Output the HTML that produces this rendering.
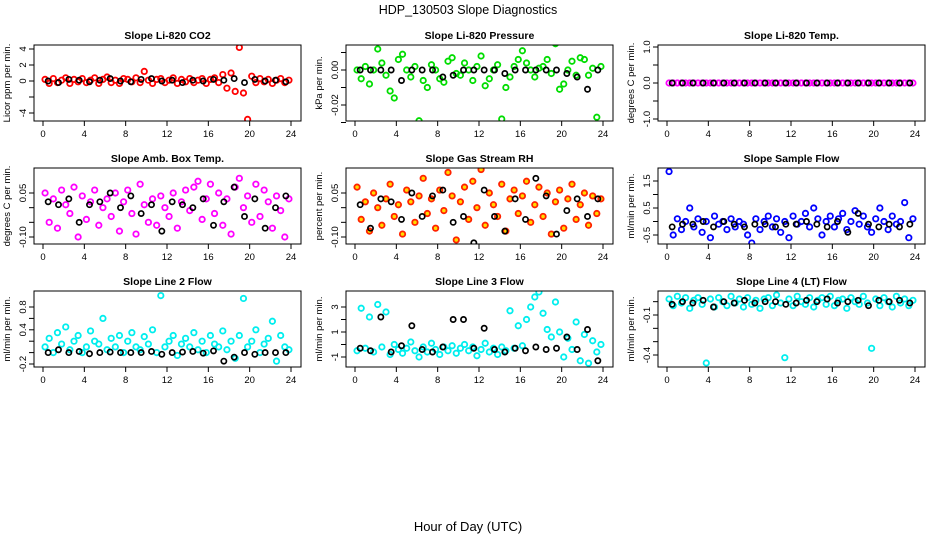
<!DOCTYPE html>
<html><head><meta charset="utf-8"><style>
html,body{margin:0;padding:0;background:#fff;}
svg{display:block;font-family:"Liberation Sans",Arial,sans-serif;}
</style></head><body>
<svg id="chart" width="936" height="540" viewBox="0 0 936 540">
<text x="468" y="14" text-anchor="middle" font-size="12.5">HDP_130503  Slope Diagnostics</text>
<text x="468" y="531" text-anchor="middle" font-size="13">Hour of Day (UTC)</text>
</svg>
<script>
const hoursC = [0.2,0.6,1.0,1.4,1.8,2.2,2.6,3.0,3.4,3.8,4.2,4.6,5.0,5.4,5.8,6.2,6.6,7.0,7.4,7.8,8.2,8.6,9.0,9.4,9.8,10.2,10.6,11.0,11.4,11.8,12.2,12.6,13.0,13.4,13.8,14.2,14.6,15.0,15.4,15.8,16.2,16.6,17.0,17.4,17.8,18.2,18.6,19.0,19.4,19.8,20.2,20.6,21.0,21.4,21.8,22.2,22.6,23.0,23.4,23.8];
const hoursB = [0.5,1.5,2.5,3.5,4.5,5.5,6.5,7.5,8.5,9.5,10.5,11.5,12.5,13.5,14.5,15.5,16.5,17.5,18.5,19.5,20.5,21.5,22.5,23.5];
const xTicks = [0,4,8,12,16,20,24];

const co2C = [0.2,-0.3,0.3,-0.2,0.1,0.4,-0.3,0.2,-0.1,0.3,-0.2,0.1,0.4,-0.3,0.2,0.5,-0.2,0.1,-0.3,0.3,0.2,-0.1,0.4,-0.2,1.2,0.1,-0.3,0.2,0.3,-0.2,0.1,0.4,-0.3,0.2,-0.1,0.3,-0.2,0.1,0.3,-0.3,0.2,0.4,-0.2,0.8,-0.9,1.0,-1.3,4.2,-1.5,-4.8,0.6,-0.2,0.3,-0.1,0.2,-0.3,0.1,0.3,-0.2,0.1];
const co2B = [0.0,-0.2,0.2,0.1,-0.1,0.1,0.3,0.0,-0.1,0.2,0.3,0.0,0.1,-0.2,0.1,0.0,0.2,0.1,0.3,-0.2,0.2,0.0,0.1,-0.1];
const presC = [0,-0.005,0.002,-0.008,0,0.012,0.004,-0.003,-0.012,-0.016,0.006,0.009,0,-0.004,0.002,-0.029,-0.006,-0.01,0.003,0,-0.005,-0.007,0.005,0.007,-0.002,-0.003,0.004,0,-0.006,0.002,0.008,-0.009,-0.005,0,0.003,-0.028,-0.01,-0.004,0.002,0.006,0.011,0.004,0,-0.004,0.001,0.002,0.006,-0.002,0.015,-0.011,-0.008,0,0.005,-0.003,0.007,0.006,-0.003,0.001,-0.027,0.002];
const presB = [0,0,0,0,-0.006,0,0,0,-0.004,-0.003,0,0,0,0,-0.002,0,0,0,0,0,-0.002,-0.004,-0.011,0];
const tempC = [0,0,0,0,0,0,0,0,0,0,0,0,0,0,0,0,0,0,0,0,0,0,0,0,0,0,0,0,0,0,0,0,0,0,0,0,0,0,0,0,0,0,0,0,0,0,0,0,0,0,0,0,0,0,0,0,0,0,0,0];
const tempB = [0,0,0,0,0,0,0,0,0,0,0,0,0,0,0,0,0,0,0,0,0,0,0,0];
const ambC = [0.05,-0.05,0.03,-0.07,0.06,0.01,-0.02,0.07,-0.10,0.04,-0.04,0.02,0.06,-0.06,0.00,0.03,-0.03,0.05,-0.08,0.02,0.06,-0.02,-0.09,0.08,0.01,-0.05,0.03,-0.06,0.04,0.00,-0.03,0.05,-0.07,0.02,0.06,-0.01,0.07,0.09,-0.04,0.03,0.08,-0.02,0.05,-0.06,0.03,-0.09,0.07,0.10,0.00,0.04,-0.05,0.08,-0.03,0.06,0.02,-0.07,0.04,-0.01,-0.10,0.03];
const ambB = [0.02,0.01,0.03,-0.05,0.01,0.02,0.05,0.00,0.04,-0.02,0.01,-0.08,0.02,0.01,0.00,0.03,-0.06,0.02,0.07,-0.03,0.03,-0.07,0.00,0.04];
const rhC = [0.07,-0.04,0.02,-0.08,0.05,0.00,-0.06,0.03,0.08,-0.03,0.01,-0.09,0.06,0.02,-0.05,0.04,0.10,-0.02,0.03,-0.07,0.06,-0.01,0.12,0.04,-0.11,0.02,0.07,-0.04,0.09,0.00,0.13,-0.06,0.05,0.01,-0.03,0.08,-0.08,0.03,0.06,-0.02,0.04,0.09,-0.05,0.01,0.07,-0.03,0.05,-0.09,0.02,0.06,-0.07,0.03,0.08,-0.04,0.01,0.05,-0.06,0.04,-0.02,0.03];
const rhB = [0.01,-0.07,0.03,0.02,-0.04,0.05,-0.03,0.04,0.06,-0.05,-0.03,-0.12,0.06,-0.03,-0.08,0.03,-0.04,0.10,0.04,-0.09,-0.01,0.03,-0.03,0.03];
const sampC = [1.85,-0.5,0.1,-0.3,0.0,0.5,-0.2,0.1,-0.4,0.0,-0.6,0.2,-0.1,0.0,-0.3,0.1,-0.2,0.0,-0.1,-0.5,-0.8,0.1,-0.3,0.0,0.2,-0.2,0.1,-0.4,0.0,-0.6,0.2,-0.1,0.0,0.3,-0.2,0.5,0.1,-0.5,0.0,0.2,-0.2,0.1,0.3,-0.3,0.0,0.4,-0.1,0.2,-0.2,-0.4,0.1,0.5,0.0,-0.3,0.2,-0.1,0.0,0.7,-0.6,0.1];
const sampB = [-0.2,-0.1,-0.1,0.0,-0.2,0.0,-0.1,-0.2,-0.1,-0.1,-0.2,-0.1,-0.1,0.0,-0.1,-0.2,0.0,-0.4,0.3,-0.1,-0.2,-0.1,-0.2,-0.1];
const l2C = [0.1,0.25,0.0,0.35,0.15,0.45,0.05,0.2,0.3,0.0,0.1,0.38,0.2,0.15,0.6,0.05,0.25,0.1,0.3,0.0,0.2,0.35,0.1,0.05,0.28,0.15,0.4,0.0,1.0,0.1,0.2,0.3,-0.05,0.15,0.25,0.1,0.35,0.05,0.2,0.0,0.3,0.15,0.1,0.38,0.05,0.2,-0.1,0.3,0.95,0.1,0.2,0.4,0.0,0.15,0.25,0.55,-0.15,0.3,0.1,0.05];
const l2B = [0.0,0.05,0.0,0.02,-0.02,0.0,0.01,0.0,0.0,0.0,0.02,-0.03,0.0,0.01,0.02,-0.01,0.03,-0.15,-0.08,0.0,-0.03,0.0,0.0,0.0];
const l3C = [-0.5,2.9,-0.3,2.2,-0.6,3.2,-0.2,2.6,-0.8,0.0,-0.4,-0.7,-0.3,0.2,-0.5,-1.0,-0.2,-0.6,0.1,-0.4,-0.8,-0.2,-0.5,-0.1,-0.7,-0.3,0.0,-0.5,-0.2,-0.9,-0.4,0.1,-0.6,-0.3,-0.8,-0.2,-0.5,2.7,-0.3,1.5,-0.1,2.0,3.0,3.8,4.2,2.5,1.2,0.6,3.4,1.0,-1.0,0.5,-0.4,1.8,-1.3,0.8,-1.5,0.3,-0.6,0.0];
const l3B = [-0.3,-0.5,2.2,-0.6,-0.1,1.5,-0.4,-0.6,-0.2,2.0,2.0,-0.3,1.3,-0.4,-0.6,-0.3,-0.5,-0.2,-0.4,-0.3,0.6,-0.4,1.2,-1.3];
const l4C = [0.02,-0.03,0.04,-0.01,0.03,-0.05,0.01,0.03,-0.02,-0.46,0.02,-0.04,0.03,0.0,-0.03,0.04,-0.01,0.02,-0.04,0.03,-0.02,0.01,-0.05,0.02,0.03,-0.03,0.05,-0.01,-0.42,0.02,-0.03,0.04,0.0,-0.02,0.03,-0.04,0.01,0.03,-0.02,0.04,-0.03,0.01,0.02,-0.05,0.03,0.0,-0.02,0.04,-0.01,-0.35,0.02,-0.03,0.03,0.0,-0.04,0.04,-0.01,0.02,-0.03,0.01];
const l4B = [-0.02,0.0,-0.01,0.01,-0.04,0.0,-0.01,0.01,-0.01,0.0,0.0,-0.02,-0.01,0.01,0.0,0.02,-0.01,0.0,0.01,-0.03,0.01,0.0,0.01,-0.01];

const co2Ticks=[-4,-2,0,2,4], co2Labels=['-4','','0','2','4'];
const presTicks=[-0.03,-0.02,-0.01,0,0.01], presLabels=['','-0.02','','0.00',''];
const tempTicks=[-1,-0.5,0,0.5,1], tempLabels=['-1.0','','0.0','','1.0'];
const ambTicks=[-0.1,-0.05,0,0.05], ambLabels=['-0.10','','','0.05'];
const sampTicks=[-0.5,0,0.5,1,1.5], sampLabels=['-0.5','','0.5','','1.5'];
const l2Ticks=[-0.2,0,0.2,0.4,0.6,0.8], l2Labels=['-0.2','','','0.4','','0.8'];
const l3Ticks=[-1,0,1,2,3], l3Labels=['-1','','1','','3'];
const l4Ticks=[-0.4,-0.3,-0.2,-0.1,0], l4Labels=['-0.4','','','-0.1',''];

const NS='http://www.w3.org/2000/svg';
const svg=document.getElementById('chart');
function mk(tag,attrs,parent){const e=document.createElementNS(NS,tag);for(const k in attrs)e.setAttribute(k,attrs[k]);(parent||svg).appendChild(e);return e;}

const colX=[34,346,658], rowY=[45,168,291], W=267, H=76;
const panels=[
 ['Slope Li-820 CO2','Licor ppm per min.',co2C,co2B,'#ff0000','none',co2Ticks,co2Labels,4,4,-4,68],
 ['Slope Li-820 Pressure','kPa per min.',presC,presB,'#00dd00','none',presTicks,presLabels,0,25,-0.02,60],
 ['Slope Li-820 Temp.','degrees C per min.',tempC,tempB,'#ff00ff','none',tempTicks,tempLabels,1,2,-1,74],
 ['Slope Amb. Box Temp.','degrees C per min.',ambC,ambB,'#ff00ff','none',ambTicks,ambLabels,0.05,25,-0.1,69],
 ['Slope Gas Stream RH','percent per min.',rhC,rhB,'#ff2200','#ffdd00',ambTicks,ambLabels,0.05,25,-0.1,69],
 ['Slope Sample Flow','ml/min per min.',sampC,sampB,'#0000ff','none',sampTicks,sampLabels,1.5,13,-0.5,67],
 ['Slope Line 2 Flow','ml/min per min.',l2C,l2B,'#00eeee','none',l2Ticks,l2Labels,0.8,16,-0.2,73],
 ['Slope Line 3 Flow','ml/min per min.',l3C,l3B,'#00eeee','none',l3Ticks,l3Labels,3,16,-1,66],
 ['Slope Line 4 (LT) Flow','ml/min per min.',l4C,l4B,'#00eeee','none',l4Ticks,l4Labels,-0.1,24,-0.4,64]
];
panels.forEach((p,i)=>{
  const bx=colX[i%3], by=rowY[Math.floor(i/3)];
  const slug=p[0].toLowerCase().replace(/[^a-z0-9]+/g,'-').replace(/-+$/,'');
  const g=mk('g',{});
  
  
  const xs=h=>bx+9+h*(W-19)/24;
  const ys=v=>by+p[9]+(v-p[8])*(p[11]-p[9])/(p[10]-p[8]);
  const t=mk('text',{x:bx+W/2,y:by-6,'text-anchor':'middle','font-size':'10.5','font-weight':'bold'},g);
  t.textContent=p[0];
  
  
  const yl=mk('text',{x:0,y:0,'text-anchor':'middle','font-size':'9.5',transform:`translate(${bx-24},${by+H/2}) rotate(-90)`},g);
  yl.textContent=p[1];
  
  
  const xa=mk('g',{},g);
  
  
  mk('line',{x1:xs(0),x2:xs(24),y1:by+H,y2:by+H,stroke:'#000','stroke-width':1},xa);
  xTicks.forEach(v=>{
    mk('line',{x1:xs(v),x2:xs(v),y1:by+H,y2:by+H+5,stroke:'#000','stroke-width':1},xa);
    const tl=mk('text',{x:xs(v),y:by+H+16,'text-anchor':'middle','font-size':'9.5'},xa);
    tl.textContent=v;
    
    
  });
  const ya=mk('g',{},g);
  
  
  p[6].forEach((v,k)=>{
    const y=ys(v);
    mk('line',{x1:bx-5,x2:bx,y1:y,y2:y,stroke:'#000','stroke-width':1},ya);
    if(p[7][k]){
      const tl=mk('text',{x:0,y:0,'text-anchor':'middle','font-size':'9.5',transform:`translate(${bx-8},${y}) rotate(-90)`},ya);
      tl.textContent=p[7][k];
      
      
    }
  });
  const clip='clip'+i;
  const cp=mk('clipPath',{id:clip},g);
  mk('rect',{x:bx,y:by,width:W,height:H},cp);
  const pts=mk('g',{'clip-path':`url(#${clip})`},g);
  
  
  p[2].forEach((v,k)=>{
    const c=mk('circle',{cx:xs(hoursC[k]),cy:ys(v),r:2.7,fill:p[5],stroke:p[4],'stroke-width':1.8},pts);
    
    
  });
  p[3].forEach((v,k)=>{
    const c=mk('circle',{cx:xs(hoursB[k]),cy:ys(v),r:2.6,fill:'none',stroke:'#000','stroke-width':1.7},pts);
    
    
  });
  const box=mk('rect',{x:bx,y:by,width:W,height:H,fill:'none',stroke:'#000','stroke-width':1},g);
  
  
});
</script>
</body></html>
